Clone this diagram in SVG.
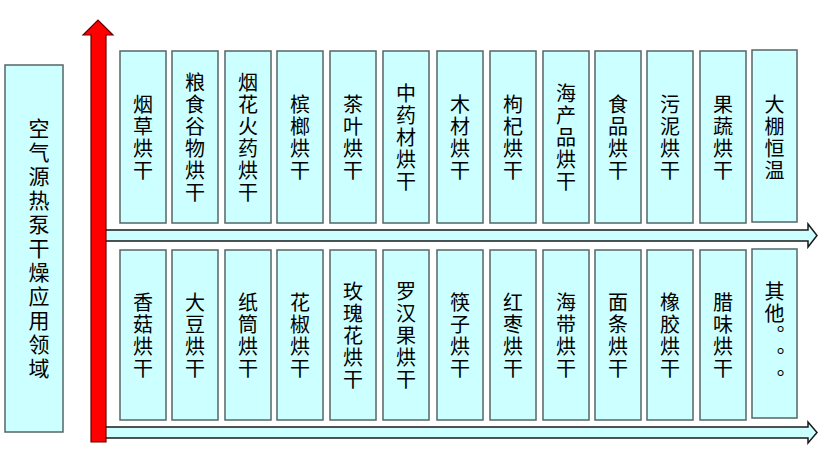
<svg xmlns="http://www.w3.org/2000/svg" width="823" height="465" viewBox="0 0 823 465">
<style>
.box{fill:#CCFFFF;stroke:#566666;stroke-width:1.5}
.lbl{font-family:"Noto Sans CJK SC","Noto Sans",sans-serif;font-size:20px;fill:#000;text-anchor:middle;writing-mode:vertical-rl;text-orientation:upright;letter-spacing:2px;text-spacing-trim:space-all}
.big{font-size:21px;letter-spacing:3px}
.harr{fill:#CCFFFF;stroke:#1a1a1a;stroke-width:1.5}
.varr{fill:#FF0000;stroke:#660000;stroke-width:1.2}
</style>
<rect width="823" height="465" fill="#fff"/>
<g id="root">
<rect class="box" x="5" y="65" width="58" height="367"/>
<text class="lbl big" x="39" y="250">空气源热泵干燥应用领域</text>
</g>
<g id="connectors">
<polygon id="arrow-top" class="harr" points="100,230 808,230 808,224 817,235.5 808,247 808,241 100,241"/>
<polygon id="arrow-bottom" class="harr" points="100,427 808,427 808,422 817,432.5 808,443 808,438 100,438"/>
<polygon id="arrow-up" class="varr" points="91,442 91,35 83,35 98,20 113,35 106,35 106,442"/>
</g>
<g id="n1"><rect class="box" x="120" y="51" width="46" height="172"/><text class="lbl" x="143" y="138">烟草烘干</text></g>
<g id="n2"><rect class="box" x="172" y="51" width="46" height="172"/><text class="lbl" x="195" y="138">粮食谷物烘干</text></g>
<g id="n3"><rect class="box" x="225" y="51" width="46" height="172"/><text class="lbl" x="248" y="138">烟花火药烘干</text></g>
<g id="n4"><rect class="box" x="277" y="51" width="46" height="172"/><text class="lbl" x="300" y="138">槟榔烘干</text></g>
<g id="n5"><rect class="box" x="330" y="51" width="46" height="172"/><text class="lbl" x="353" y="138">茶叶烘干</text></g>
<g id="n6"><rect class="box" x="383" y="51" width="46" height="172"/><text class="lbl" x="406" y="138">中药材烘干</text></g>
<g id="n7"><rect class="box" x="437" y="51" width="46" height="172"/><text class="lbl" x="460" y="138">木材烘干</text></g>
<g id="n8"><rect class="box" x="490" y="51" width="46" height="172"/><text class="lbl" x="513" y="138">枸杞烘干</text></g>
<g id="n9"><rect class="box" x="543" y="51" width="46" height="172"/><text class="lbl" x="566" y="138">海产品烘干</text></g>
<g id="n10"><rect class="box" x="595" y="51" width="46" height="172"/><text class="lbl" x="618" y="138">食品烘干</text></g>
<g id="n11"><rect class="box" x="647" y="51" width="46" height="172"/><text class="lbl" x="670" y="138">污泥烘干</text></g>
<g id="n12"><rect class="box" x="700" y="51" width="46" height="172"/><text class="lbl" x="723" y="138">果蔬烘干</text></g>
<g id="n13"><rect class="box" x="752" y="50" width="45" height="172"/><text class="lbl" x="774.5" y="138">大棚恒温</text></g>
<g id="m1"><rect class="box" x="120" y="250" width="46" height="170"/><text class="lbl" x="143" y="336">香菇烘干</text></g>
<g id="m2"><rect class="box" x="172" y="250" width="46" height="170"/><text class="lbl" x="195" y="336">大豆烘干</text></g>
<g id="m3"><rect class="box" x="225" y="250" width="46" height="170"/><text class="lbl" x="248" y="336">纸筒烘干</text></g>
<g id="m4"><rect class="box" x="277" y="250" width="46" height="170"/><text class="lbl" x="300" y="336">花椒烘干</text></g>
<g id="m5"><rect class="box" x="330" y="250" width="46" height="170"/><text class="lbl" x="353" y="336">玫瑰花烘干</text></g>
<g id="m6"><rect class="box" x="383" y="250" width="46" height="170"/><text class="lbl" x="406" y="336">罗汉果烘干</text></g>
<g id="m7"><rect class="box" x="437" y="250" width="46" height="170"/><text class="lbl" x="460" y="336">筷子烘干</text></g>
<g id="m8"><rect class="box" x="490" y="250" width="46" height="170"/><text class="lbl" x="513" y="336">红枣烘干</text></g>
<g id="m9"><rect class="box" x="543" y="250" width="46" height="170"/><text class="lbl" x="566" y="336">海带烘干</text></g>
<g id="m10"><rect class="box" x="595" y="250" width="46" height="170"/><text class="lbl" x="618" y="336">面条烘干</text></g>
<g id="m11"><rect class="box" x="647" y="250" width="46" height="170"/><text class="lbl" x="670" y="336">橡胶烘干</text></g>
<g id="m12"><rect class="box" x="700" y="250" width="46" height="170"/><text class="lbl" x="723" y="336">腊味烘干</text></g>
<g id="m13"><rect class="box" x="752" y="249" width="45" height="169"/><text class="lbl" x="774.5" y="336">其他。。。</text></g>
</svg>
